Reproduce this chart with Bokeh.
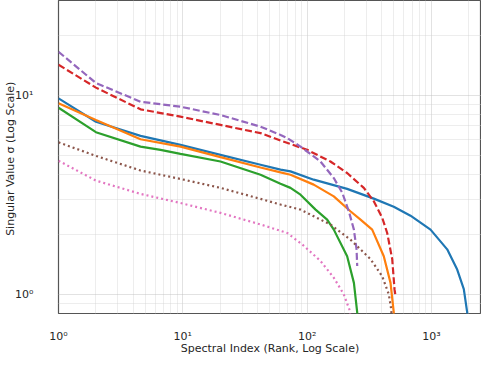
from bokeh.plotting import figure
from bokeh.models import FixedTicker, CustomJSTickFormatter, Range1d
from bokeh.embed import file_html
from bokeh.resources import INLINE

# ranks and singular values
blue_x = [1, 2, 4.57, 9.58, 20.1, 42.2, 61.1, 73.5, 113, 210, 344, 498, 679, 984, 1340, 1613, 1823, 1941, 2000]
blue_y = [9.63, 7.35, 6.24, 5.62, 5.01, 4.47, 4.22, 4.14, 3.76, 3.38, 3.02, 2.75, 2.48, 2.11, 1.68, 1.33, 1.06, 0.81, 0.4]

orange_x = [1, 2, 4.57, 9.58, 20.1, 42.2, 61.1, 73.5, 113, 164, 223, 269, 334, 414, 469, 498, 505]
orange_y = [9.09, 7.50, 6.00, 5.51, 4.88, 4.33, 4.09, 3.98, 3.55, 3.10, 2.61, 2.37, 2.11, 1.55, 1.14, 0.81, 0.4]

green_x = [1, 2, 4.57, 6.62, 9.58, 20.1, 42.2, 61.1, 73.5, 88.5, 117, 145, 164, 210, 238, 253, 256]
green_y = [8.64, 6.51, 5.51, 5.31, 5.07, 4.64, 3.98, 3.59, 3.42, 3.16, 2.66, 2.37, 2.11, 1.55, 1.14, 0.81, 0.4]

red_x = [1, 2, 4.57, 9.58, 20.1, 42.2, 61.1, 100, 154, 210, 286, 344, 402, 441, 484, 505, 512]
red_y = [14.2, 10.9, 8.48, 7.79, 7.08, 6.44, 5.91, 5.31, 4.64, 4.06, 3.42, 2.93, 2.42, 2.03, 1.50, 1.06, 1.0]

purple_x = [1, 2, 4.57, 9.58, 20.1, 42.2, 61.1, 69.2, 88.5, 128, 164, 192, 217, 238, 250, 253]
purple_y = [16.5, 11.5, 9.26, 8.74, 7.94, 6.94, 6.31, 6.08, 5.51, 4.64, 3.83, 3.23, 2.60, 2.11, 1.68, 1.385]

brown_x = [1, 2, 4.57, 9.58, 20.1, 42.2, 61.1, 88.5, 128, 154, 223, 324, 402, 454, 475, 490]
brown_y = [5.79, 4.95, 4.18, 3.79, 3.42, 3.01, 2.82, 2.66, 2.37, 2.24, 1.88, 1.50, 1.23, 1.0, 0.84, 0.6]

pink_x = [1, 2, 4.57, 9.58, 20.1, 42.2, 69.2, 91.3, 128, 164, 197, 221, 230]
pink_y = [4.68, 3.72, 3.19, 2.87, 2.56, 2.24, 2.03, 1.78, 1.47, 1.21, 1.0, 0.825, 0.6]

x_major = [1, 10, 100, 1000]
x_minor = [2, 3, 4, 5, 6, 7, 8, 9, 20, 30, 40, 50, 60, 70, 80, 90,
           200, 300, 400, 500, 600, 700, 800, 900, 2000]
y_major = [1, 10]
y_minor = [0.9, 2, 3, 4, 5, 6, 7, 8, 9, 20]

p = figure(width=481, height=357, x_axis_type="log", y_axis_type="log",
           x_range=Range1d(1, 2530), y_range=Range1d(0.80, 29.85),
           output_backend="svg", toolbar_location=None,
           min_border_left=58, min_border_right=0, min_border_top=0,
           min_border_bottom=43)

p.outline_line_color = "#555555"
p.outline_line_width = 1.2
p.background_fill_color = "white"

fmt = CustomJSTickFormatter(code="""
const e = Math.round(Math.log10(tick));
const sup = {'-1':'\u207b\u00b9','0':'\u2070','1':'\u00b9','2':'\u00b2','3':'\u00b3'};
return '10' + sup[String(e)];
""")

p.xaxis.ticker = FixedTicker(ticks=x_major, minor_ticks=x_minor)
p.yaxis.ticker = FixedTicker(ticks=y_major, minor_ticks=y_minor)
for ax in (p.xaxis, p.yaxis):
    ax.formatter = fmt
    ax.axis_line_color = None
    ax.major_tick_line_color = None
    ax.minor_tick_line_color = None
    ax.major_label_text_font = "DejaVu Sans"
    ax.major_label_text_font_size = "11px"
    ax.major_label_text_color = "#262626"
    ax.axis_label_text_font = "DejaVu Sans"
    ax.axis_label_text_font_size = "11px"
    ax.axis_label_text_font_style = "normal"
    ax.axis_label_text_color = "#262626"

p.xaxis.axis_label = "Spectral Index (Rank, Log Scale)"
p.xaxis.major_label_standoff = 10
p.xaxis.axis_label_standoff = -4
p.yaxis.axis_label = "Singular Value \u03c3  (Log Scale)"
p.yaxis.major_label_standoff = 19
p.yaxis.axis_label_standoff = -5

for g in (p.xgrid, p.ygrid):
    g.grid_line_color = "#bdbdbd"
    g.grid_line_dash = "1 1"
    g.grid_line_width = 0.9
    g.minor_grid_line_color = "#d0d0d0"
    g.minor_grid_line_dash = "1 1"
    g.minor_grid_line_width = 0.8

lw = 2.2
p.line(blue_x, blue_y, line_color="#1f77b4", line_width=lw)
p.line(orange_x, orange_y, line_color="#ff7f0e", line_width=lw)
p.line(green_x, green_y, line_color="#2ca02c", line_width=lw)
p.line(red_x, red_y, line_color="#d62728", line_width=lw, line_dash="7 3")
p.line(purple_x, purple_y, line_color="#9467bd", line_width=lw, line_dash="7 3")
p.line(brown_x, brown_y, line_color="#8c564b", line_width=lw, line_dash="2 3")
p.line(pink_x, pink_y, line_color="#e377c2", line_width=lw, line_dash="2 3")

open("out.html", "w").write(file_html(p, INLINE))
